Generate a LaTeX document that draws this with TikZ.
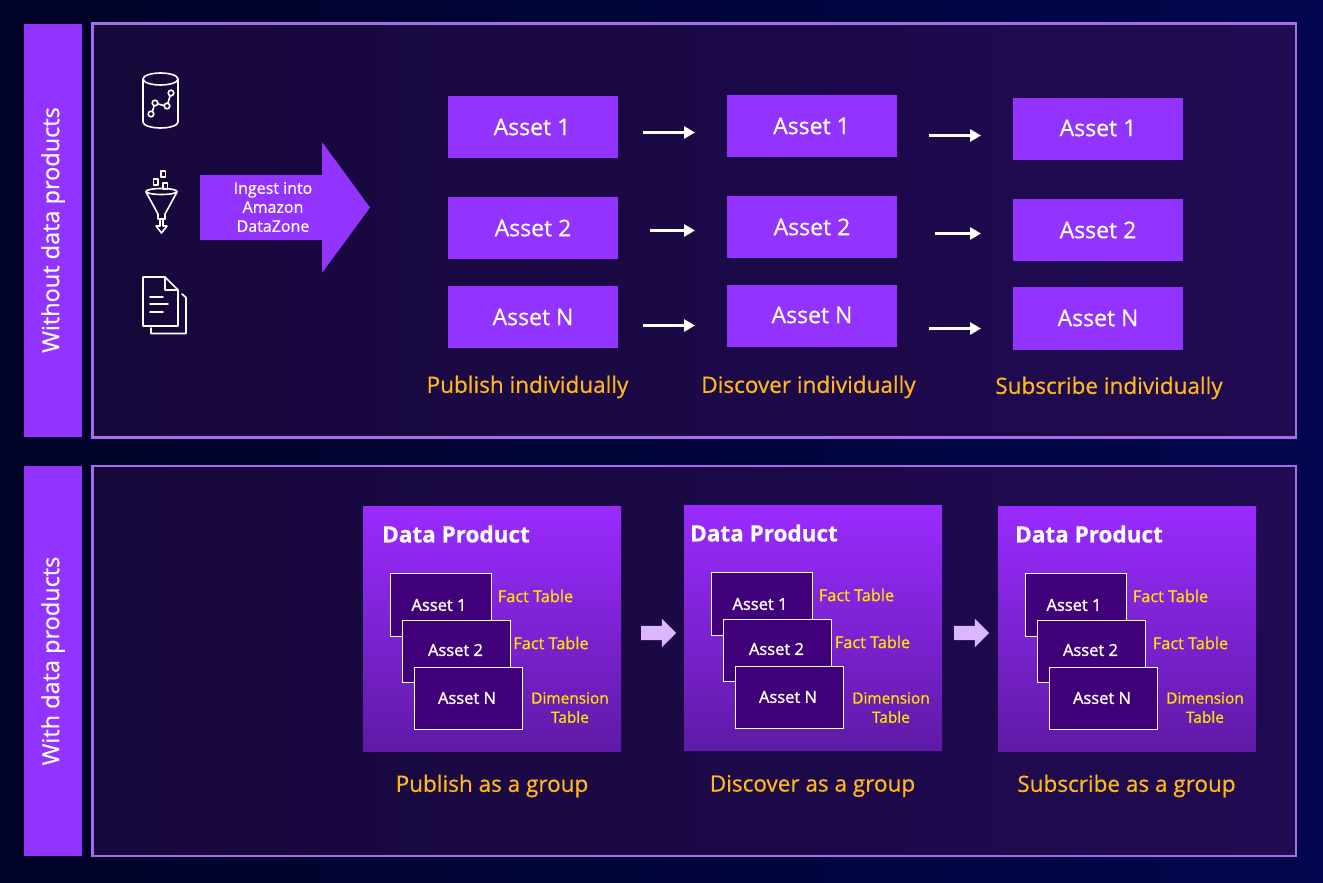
\documentclass[tikz,border=0pt]{standalone}
\usepackage{fontspec}
\setmainfont{Open Sans}[RawFeature={embolden=0.6}]
\newfontfamily\heavyfont{Open Sans}[RawFeature={embolden=1.5}]
\usetikzlibrary{arrows.meta,shapes.arrows,calc}
\definecolor{bgA}{HTML}{000226}
\definecolor{bgB}{HTML}{03064E}
\definecolor{panelA}{HTML}{17083B}
\definecolor{panelB}{HTML}{200A52}
\definecolor{panelline}{HTML}{A56EE6}
\definecolor{violet}{HTML}{9333FF}
\definecolor{gradtop}{HTML}{9A2BFF}
\definecolor{gradbot}{HTML}{5F1AA6}
\definecolor{deep}{HTML}{3F0079}
\definecolor{amber}{HTML}{FFB81C}
\definecolor{lemon}{HTML}{FFE600}
\definecolor{lilac}{HTML}{DDB6FF}
\tikzset{
  x=1pt,y=-1pt,
  assetbox/.style={fill=violet,minimum width=170pt,minimum height=62pt,inner sep=0pt},
  assettext/.style={text=white,inner sep=0pt,font=\fontsize{23}{26}\selectfont},
  sidebar/.style={fill=violet,text=white,minimum width=58pt,inner sep=0pt},
  sidetext/.style={text=white,rotate=90,font=\fontsize{23.5}{26}\selectfont,inner sep=0pt},
  panelbox/.style={draw=panelline,line width=2.4pt,left color=panelA,right color=panelB},
  caption/.style={text=amber,font=\fontsize{22.5}{26}\selectfont,inner sep=0pt},
  flow/.style={draw=white,line width=2.8pt,-{Triangle[length=11pt,width=12pt]}},
  dpbox/.style={top color=gradtop,bottom color=gradbot,minimum width=258pt,minimum height=245pt,inner sep=0pt},
  dptitle/.style={text=white,font=\fontsize{22.5}{26}\selectfont\bfseries,inner sep=0pt,anchor=west},
  innerbox/.style={draw=white,line width=1pt,fill=deep,anchor=north west,inner sep=0pt},
  innertext/.style={text=white,font=\fontsize{16.5}{20}\heavyfont,inner sep=0pt},
  tablabel/.style={text=lemon,font=\fontsize{16.3}{19}\selectfont,inner sep=0pt,align=center},
  dimlabel/.style={text=lemon,font=\fontsize{15.4}{19}\selectfont,inner sep=0pt,align=center},
  iconline/.style={draw=white,line width=1.6pt,line join=round,line cap=round},
  fatarrow/.style={single arrow,fill=lilac,inner xsep=0pt,inner ysep=7pt,minimum width=28pt,minimum height=35pt,single arrow head extend=7pt,single arrow tip angle=90,shape border rotate=0},
}
% #1 name, #2 x offset, #3 y offset, #4 title x, #5 second label x
\newcommand{\dpgroup}[5]{%
  \node[dpbox] (#1) at (492+#2,628.5+#3) {};
  \node[dptitle] (#1t) at (#4,534+#3) {Data Product};
  \node[innerbox,minimum width=101pt,minimum height=62.5pt] (#1a) at (390+#2,573+#3) {};
  \node[innertext] (#1at) at (439+#2,605+#3) {Asset 1};
  \node[innerbox,minimum width=108pt,minimum height=62pt] (#1b) at (402+#2,619.5+#3) {};
  \node[innertext] (#1bt) at (455.5+#2,650+#3) {Asset 2};
  \node[innerbox,minimum width=108pt,minimum height=62.5pt] (#1c) at (414+#2,666.5+#3) {};
  \node[innertext] (#1ct) at (467+#2,698+#3) {Asset N};
  \node[tablabel] (#1l) at (535.5+#2,596+#3) {Fact Table};
  \node[tablabel] (#1m) at (#5,643+#3) {Fact Table};
  \node[dimlabel] (#1n) at (570+#2,698) {Dimension};
  \node[dimlabel] (#1o) at (570+#2,717) {Table};
}
\begin{document}
\begin{tikzpicture}
\useasboundingbox (0,0) rectangle (1323,883);
\shade[left color=bgA,right color=bgB] (0,0) rectangle (1323,883);
% panels
\node[sidebar,minimum height=413pt] (bar1) at (53,230.5) {};
\node[sidebar,minimum height=390pt] (bar2) at (53,661) {};
\node[sidetext] (side1) at (53,230) {Without data products};
\node[sidetext] (side2) at (53,661) {With data products};
\draw[panelbox] (92.5,23.5) rectangle (1296,437.5);
\draw[panelbox] (92.5,466) rectangle (1296,856);
% icons
\begin{scope}[iconline]
  \draw (143,79) arc[x radius=17.5,y radius=6,start angle=180,end angle=-180];
  \draw (143,79) -- (143,122) arc[x radius=17.5,y radius=6,start angle=180,end angle=0] -- (178,79);
  \draw (151,114) circle[radius=2.8] (155,103) circle[radius=2.8] (167,106) circle[radius=2.8] (171,93) circle[radius=2.8];
  \draw (152.5,111.5) -- (154,106) (158,104) -- (164,105.5) (168,103) -- (170,96);
  % funnel
  \draw (146,191.5) arc[x radius=15.5,y radius=3,start angle=180,end angle=-180];
  \draw (146,192) -- (158,214) -- (158,219) -- (165,219) -- (165,214) -- (177,192);
  \draw (160,220) -- (160,226) -- (156,226) -- (161.5,233) -- (167,226) -- (163,226) -- (163,220);
  \draw (161,171) rectangle (165.5,177) (153.5,179) rectangle (158,185) (163,183) rectangle (167.5,189);
  % documents
  \draw (143,277) -- (165,277) -- (178,290) -- (178,326) -- (143,326) -- cycle;
  \draw (165,277) -- (165,290) -- (178,290);
  \draw (150,297) -- (163,297) (150,304) -- (168,304) (150,312) -- (163,312);
  \draw (182,294) -- (186,297.5) -- (186,333.5) -- (151,333.5) -- (151,328);
\end{scope}
\fill[violet] (200,175) -- (322,175) -- (322,142) -- (370,207.5) -- (322,273) -- (322,240) -- (200,240) -- cycle;
\node[text=white,align=center,inner sep=0pt,font=\fontsize{16}{19}\selectfont] (ingest) at (273,207) {Ingest into\\Amazon\\DataZone};
% asset rows
\node[assetbox] (p1) at (533,127) {};
\node[assetbox] (p2) at (533,228) {};
\node[assetbox] (p3) at (533,317) {};
\node[assetbox] (d1) at (812,126) {};
\node[assetbox] (d2) at (812,227) {};
\node[assetbox] (d3) at (812,316) {};
\node[assetbox] (s1) at (1098,129) {};
\node[assetbox] (s2) at (1098,230) {};
\node[assetbox,minimum height=63pt] (s3) at (1098,318.5) {};
\node[assettext] (pt1) at (532,127) {Asset 1};
\node[assettext] (pt2) at (533,228) {Asset 2};
\node[assettext] (pt3) at (533,317) {Asset N};
\node[assettext] (dt1) at (811.5,126) {Asset 1};
\node[assettext] (dt2) at (812,227) {Asset 2};
\node[assettext] (dt3) at (812,315) {Asset N};
\node[assettext] (st1) at (1098,128) {Asset 1};
\node[assettext] (st2) at (1098,230) {Asset 2};
\node[assettext] (st3) at (1098,318) {Asset N};
\coordinate (a1s) at (643,132.5); \coordinate (a1e) at (695,132.5);
\coordinate (a2s) at (929,135.5); \coordinate (a2e) at (981,135.5);
\coordinate (a3s) at (650,230.5); \coordinate (a3e) at (695,230.5);
\coordinate (a4s) at (935,233.5); \coordinate (a4e) at (981,233.5);
\coordinate (a5s) at (643,325.5); \coordinate (a5e) at (695,325.5);
\coordinate (a6s) at (929,328.5); \coordinate (a6e) at (981,328.5);
\draw[flow] (a1s) -- (a1e);
\draw[flow] (a2s) -- (a2e);
\draw[flow] (a3s) -- (a3e);
\draw[flow] (a4s) -- (a4e);
\draw[flow] (a5s) -- (a5e);
\draw[flow] (a6s) -- (a6e);
\node[caption] (c1) at (527.5,387) {Publish individually};
\node[caption] (c2) at (808.5,387) {Discover individually};
\node[caption] (c3) at (1109,388) {Subscribe individually};
% data products
\dpgroup{dpa}{0}{0}{382}{551}
\dpgroup{dpb}{321}{-1}{690}{872.5}
\dpgroup{dpc}{635}{0}{1015}{1190.5}
\node[fatarrow] (ga) at (655,633) {};
\node[fatarrow] (gb) at (968,633) {};
\node[caption] (g1) at (492,786) {Publish as a group};
\node[caption] (g2) at (812.5,786) {Discover as a group};
\node[caption] (g3) at (1126.5,786) {Subscribe as a group};
\end{tikzpicture}
\end{document}
